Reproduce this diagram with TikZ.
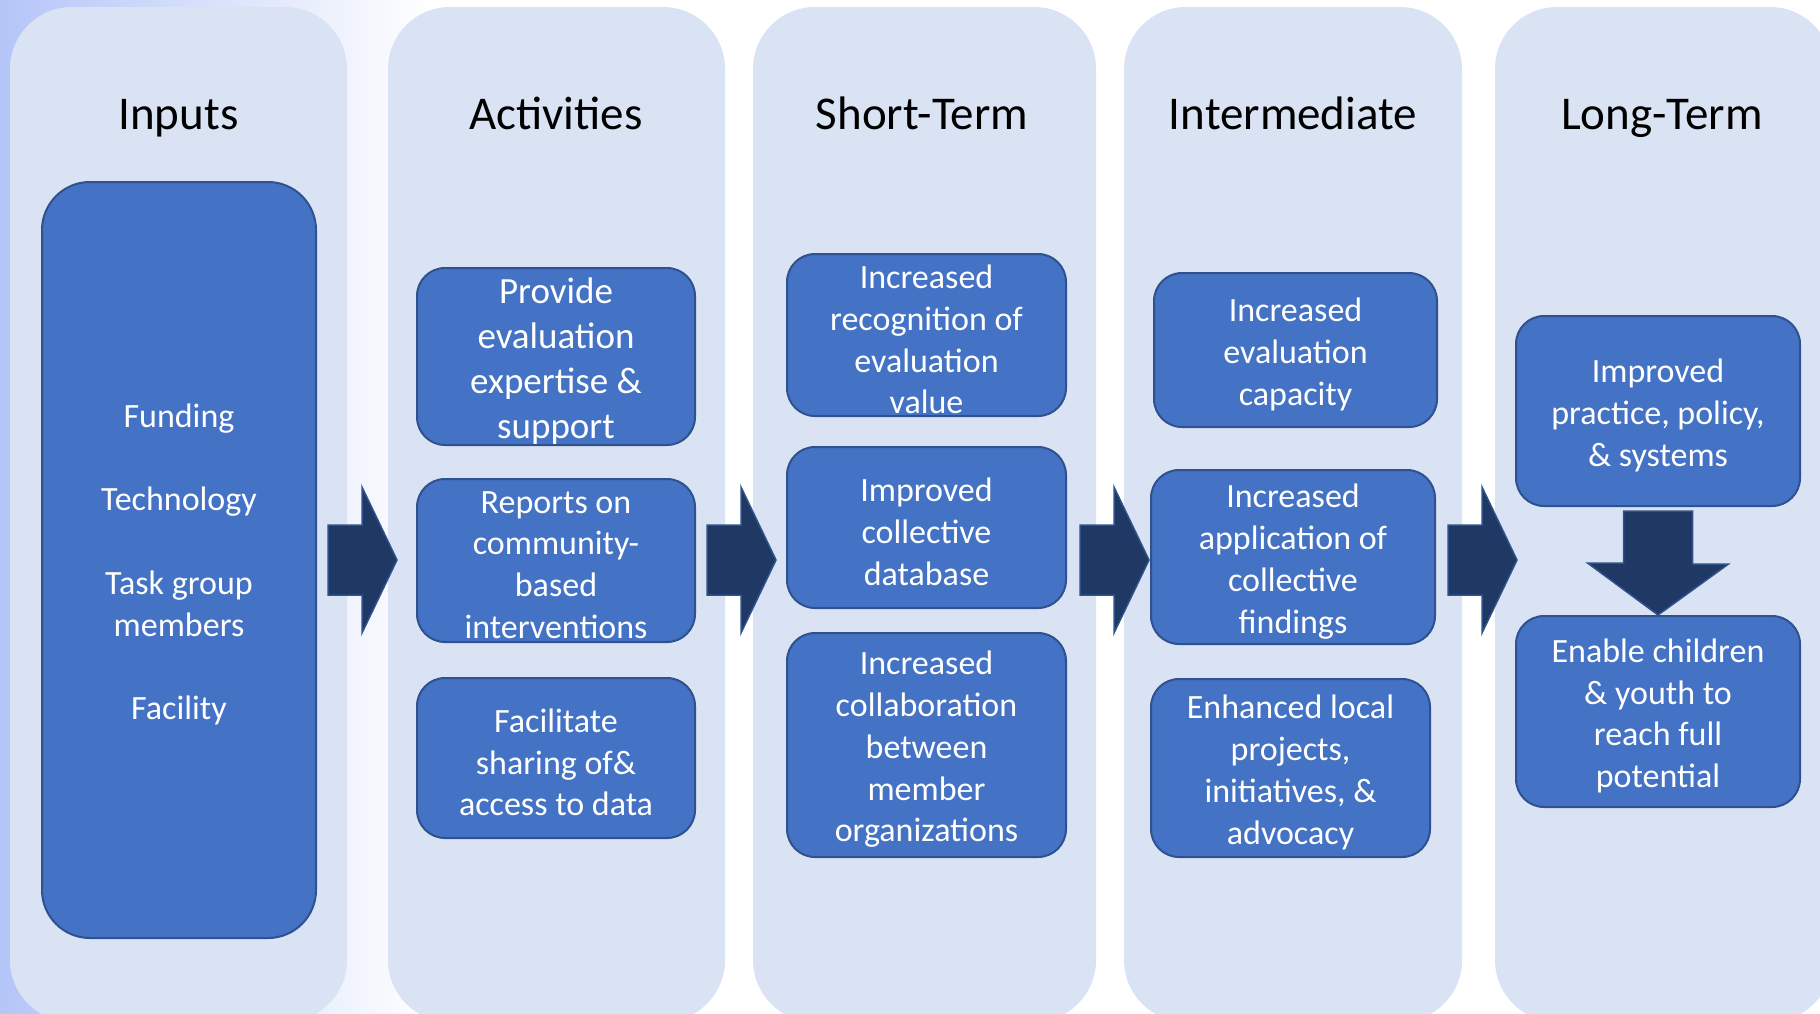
\documentclass[tikz,border=0pt]{standalone}
\usepackage{fontspec}
\setmainfont{Carlito}
\definecolor{colfill}{HTML}{DAE3F3}
\definecolor{boxfill}{HTML}{4472C4}
\definecolor{boxline}{HTML}{2F528F}
\definecolor{arrfill}{HTML}{203864}
\definecolor{bgblue}{HTML}{B4C5F8}
\tikzset{
  column/.style={fill=colfill, rounded corners=62pt},
  coltitle/.style={anchor=base, font=\fontsize{47}{56}\selectfont, text=black, inner sep=0pt},
  bx/.style={draw=boxline, line width=2pt, fill=boxfill, rounded corners=28pt, inner sep=0pt},
  bxtext/.style={text=white, align=center, font=\fontsize{34}{41.8}\selectfont, inner sep=0pt, yshift=-4.5pt},
  bigtext/.style={font=\fontsize{37}{45}\selectfont},
  bigarrow/.style={fill=arrfill, draw=boxline, line width=1.5pt, line join=miter},
}
\begin{document}
\begin{tikzpicture}[x=1pt,y=-1pt]
\useasboundingbox (0,0) rectangle (1820,1013);
\begin{scope}
\clip (0,0) rectangle (1820,1013);
% background
\fill[white] (0,0) rectangle (1820,1013);
\shade[left color=bgblue, right color=white] (0,0) rectangle (430,1013);
% columns
\fill[column] (10,7) rectangle (347,1022);
\fill[column] (388,7) rectangle (725,1022);
\fill[column] (753,7) rectangle (1096,1022);
\fill[column] (1124,7) rectangle (1462,1022);
\fill[column] (1495,7) rectangle (1832,1022);
\end{scope}
% titles
\node[coltitle] (t1) at (178.5,129) {Inputs};
\node[coltitle] (t2) at (556,129) {Activities};
\node[coltitle] (t3) at (922,129) {Short-Term};
\node[coltitle] (t4) at (1293,129) {Intermediate};
\node[coltitle] (t5) at (1662,129) {Long-Term};
% inputs
\node[bx, rounded corners=48pt, minimum width=274, minimum height=756,
  label={[bxtext, name=int]center:{Funding\\[41.8pt]Technology\\[41.8pt]Task group\\members\\[41.8pt]Facility}}] (in) at (179,560) {};
% activities
\node[bx, minimum width=278, minimum height=177,
  label={[bxtext, bigtext, name=a1t]center:{Provide\\evaluation\\expertise \&\\support}}] (a1) at (556,356.5) {};
\node[bx, minimum width=278, minimum height=163,
  label={[bxtext, name=a2t]center:{Reports on\\community-\\based\\interventions}}] (a2) at (556,560.5) {};
\node[bx, minimum width=278, minimum height=160,
  label={[bxtext, name=a3t]center:{Facilitate\\sharing of\&\\access to data}}] (a3) at (556,758) {};
% short-term
\node[bx, minimum width=279, minimum height=162,
  label={[bxtext, name=s1t]center:{Increased\\recognition of\\evaluation\\value}}] (s1) at (926.5,335) {};
\node[bx, minimum width=279, minimum height=161,
  label={[bxtext, name=s2t]center:{Improved\\collective\\database}}] (s2) at (926.5,527.5) {};
\node[bx, minimum width=279, minimum height=224,
  label={[bxtext, name=s3t]center:{Increased\\collaboration\\between\\member\\organizations}}] (s3) at (926.5,745) {};
% intermediate
\node[bx, minimum width=283, minimum height=154,
  label={[bxtext, name=m1t]center:{Increased\\evaluation\\capacity}}] (m1) at (1295.5,350) {};
\node[bx, minimum width=284, minimum height=174,
  label={[bxtext, name=m2t]center:{Increased\\application of\\collective\\findings}}] (m2) at (1293,557) {};
\node[bx, minimum width=279, minimum height=178,
  label={[bxtext, name=m3t]center:{Enhanced local\\projects,\\initiatives, \&\\advocacy}}] (m3) at (1290.5,768) {};
% long-term
\node[bx, minimum width=284, minimum height=190,
  label={[bxtext, name=l1t]center:{Improved\\practice, policy,\\\& systems}}] (l1) at (1658,411) {};
\node[bx, minimum width=284, minimum height=191,
  label={[bxtext, name=l2t]center:{Enable children\\\& youth to\\reach full\\potential}}] (l2) at (1658,711.5) {};
% right block arrows between columns
\foreach \nm/\xx in {ar1/328, ar2/707, ar3/1080, ar4/1448} {
  \coordinate (\nm) at (\xx,560);
  \draw[bigarrow] (\nm) ++(0,-35) -- ++(34,0) -- ++(0,-38) -- ++(35,73)
     -- ++(-35,73) -- ++(0,-38) -- ++(-34,0) -- cycle;
}
% down arrow from l1 to l2
\draw[bigarrow] ([yshift=-4pt]l1.south) ++(-34.5,0) -- ++(69,0) -- ++(0,53) -- ++(36,0)
   -- (l2.north) -- ++(-70.5,-52) -- ++(36,0) -- cycle;
\end{tikzpicture}
\end{document}
